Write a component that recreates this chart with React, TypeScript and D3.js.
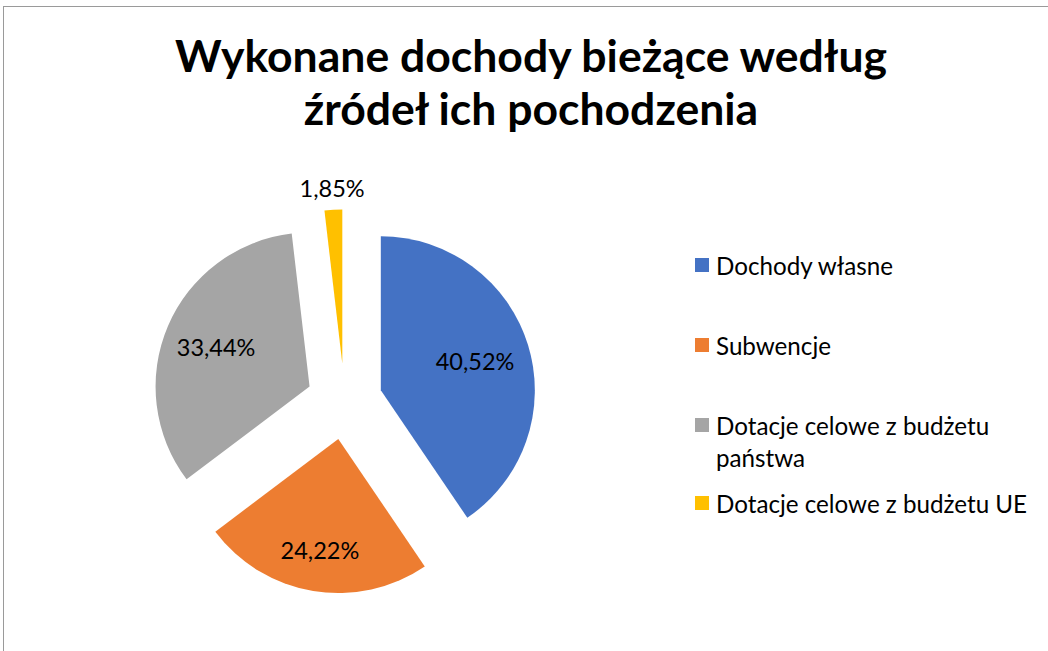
import React from "react";
import * as d3 from "d3";

const categories = [
  "Dochody własne",
  "Subwencje",
  "Dotacje celowe z budżetu państwa",
  "Dotacje celowe z budżetu UE",
];
const values = [40.52, 24.22, 33.44, 1.85];
const valueLabels = ["40,52%", "24,22%", "33,44%", "1,85%"];
const colors = ["#4472C4", "#ED7D31", "#A5A5A5", "#FFC000"];
const legendLines = [["Dochody własne"], ["Subwencje"], ["Dotacje celowe z budżetu", "państwa"], ["Dotacje celowe z budżetu UE"]];
const titleLines = ["Wykonane dochody bieżące według", "źródeł ich pochodzenia"];

const W = 1048;
const H = 651;
const FONT = "Lato, 'Open Sans', sans-serif";

export default function App() {
  const cx = 344.5;
  const cy = 401.5;
  const r = 154;
  const explode = 38;
  const pie = d3.pie<number>().sort(null).value((d) => d)(values);
  const arc = d3.arc<d3.PieArcDatum<number>>().innerRadius(0).outerRadius(r);
  const labelFactor = [0.64, 0.73, 0.66, -1];
  const legendY = [265, 345, 425, 503];

  return (
    <svg
      width={W}
      height={H}
      style={{ position: "absolute", left: 0, top: 0, background: "#fff" }}
      fontFamily={FONT}
    >
      <rect x={3.5} y={6.5} width={W + 10} height={H + 10} fill="#fff" stroke="#9a9a9a" strokeWidth={1} />
      {titleLines.map((t, i) => (
        <text
          key={i}
          x={531}
          y={72 + i * 53}
          textAnchor="middle"
          fontSize={44.5}
          fontWeight={700}
          fill="#000"
        >
          {t}
        </text>
      ))}
      {pie.map((p, i) => {
        const mid = (p.startAngle + p.endAngle) / 2;
        const ox = cx + explode * Math.sin(mid);
        const oy = cy - explode * Math.cos(mid);
        const k = labelFactor[i];
        const lr = k > 0 ? k * r : r + 22;
        const lx = ox + lr * Math.sin(mid);
        const ly = oy - lr * Math.cos(mid);
        return (
          <g key={i}>
            <path d={arc(p) || ""} transform={`translate(${ox},${oy})`} fill={colors[i]} />
            <text x={lx} y={ly} textAnchor="middle" dominantBaseline="central" fontSize={23.5} fill="#000">
              {valueLabels[i]}
            </text>
          </g>
        );
      })}
      {categories.map((c, i) => (
        <g key={c}>
          <rect x={695} y={legendY[i] - 7} width={14} height={14} fill={colors[i]} />
          {legendLines[i].map((ln, j) => (
            <text key={j} x={716} y={legendY[i] + j * 32} dominantBaseline="central" fontSize={24.2} fill="#000">
              {ln}
            </text>
          ))}
        </g>
      ))}
    </svg>
  );
}
